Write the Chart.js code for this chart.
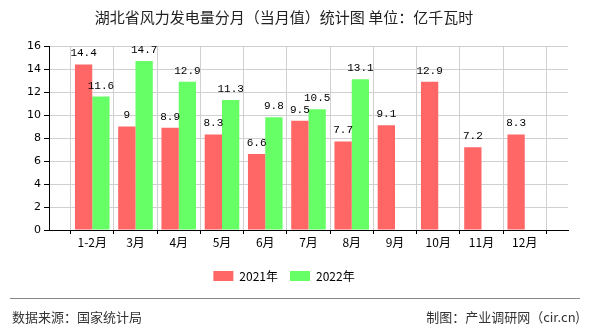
<!DOCTYPE html>
<html>
<head>
<meta charset="utf-8">
<script src="https://cdn.jsdelivr.net/npm/chart.js@4/dist/chart.umd.min.js"></script>
<style>
  html, body { margin: 0; padding: 0; background: #fff; }
  #wrap { position: relative; width: 590px; height: 330px; }
  #footer-line { position: absolute; left: 10px; right: 10px; top: 298px; border-top: 1px solid #888; }
  .foot { position: absolute; top: 307px; font: 13px "Noto Sans CJK SC", sans-serif; color: #333; }
</style>
</head>
<body>
<div id="wrap">
  <canvas id="chart" width="590" height="330"></canvas>
  <div id="footer-line"></div>
  <div class="foot" style="left:12px">数据来源：国家统计局</div>
  <div class="foot" style="right:10px">制图：产业调研网（cir.cn)</div>
</div>
<script>
// categorias e valores (亿千瓦时)
const categories = ['1-2月', '3月', '4月', '5月', '6月', '7月', '8月', '9月', '10月', '11月', '12月'];
const values2021 = [14.4, 9, 8.9, 8.3, 6.6, 9.5, 7.7, 9.1, 12.9, 7.2, 8.3];
const values2022 = [11.6, 14.7, 12.9, 11.3, 9.8, 10.5, 13.1];
const yTicks = [0, 2, 4, 6, 8, 10, 12, 14, 16];

const toPoints = arr => arr.map((v, i) => ({ x: i + 1, y: v }));

// Rótulos acima das barras
const barLabels = {
  id: 'barLabels',
  afterDatasetsDraw(chart) {
    const ctx = chart.ctx;
    ctx.save();
    ctx.font = '11px "Liberation Mono", monospace';
    ctx.fillStyle = '#000';
    ctx.textAlign = 'center';
    ctx.textBaseline = 'middle';
    chart.data.datasets.forEach((ds, di) => {
      chart.getDatasetMeta(di).data.forEach((el, i) => {
        ctx.fillText(String(ds.data[i].y), el.x, el.y - 11);
      });
    });
    ctx.restore();
  }
};

new Chart(document.getElementById('chart'), {
  type: 'bar',
  data: {
    datasets: [
      {
        label: '2021年',
        data: toPoints(values2021),
        backgroundColor: '#FF6666',
        barPercentage: 1,
        categoryPercentage: 0.8
      },
      {
        label: '2022年',
        data: toPoints(values2022),
        backgroundColor: '#66FF66',
        barPercentage: 1,
        categoryPercentage: 0.8
      }
    ]
  },
  options: {
    responsive: false,
    animation: false,
    layout: { padding: { left: 0, right: 22, top: 0, bottom: 38 } },
    plugins: {
      title: {
        display: true,
        text: '湖北省风力发电量分月（当月值）统计图 单位：亿千瓦时',
        color: '#222',
        font: { family: '"Noto Sans CJK SC", sans-serif', size: 15, weight: 'normal' },
        padding: { top: 8, bottom: 20 }
      },
      legend: {
        position: 'bottom',
        labels: {
          boxWidth: 20,
          boxHeight: 10,
          color: '#000',
          padding: 12,
          font: { family: '"Noto Sans CJK SC", sans-serif', size: 12 }
        }
      },
      tooltip: { enabled: false }
    },
    scales: {
      x: {
        type: 'linear',
        min: 0,
        max: 12,
        offset: false,
        afterFit(scale) { scale.height = 28; },
        afterBuildTicks(scale) {
          scale.ticks = categories.map((c, i) => ({ value: i + 1 }));
          scale.ticks.unshift({ value: 0 });
          scale.ticks.push({ value: 12 });
        },
        ticks: {
          autoSkip: false,
          maxRotation: 0,
          color: '#000',
          padding: 1,
          font: { family: '"Noto Sans CJK SC", sans-serif', size: 12 },
          callback: v => categories[v - 1] || ''
        },
        grid: { color: '#d0d0d0', tickColor: '#000', tickLength: 4 },
        border: { color: '#000' }
      },
      y: {
        min: 0,
        max: 16,
        afterFit(scale) { scale.width = 49; },
        afterBuildTicks(scale) {
          scale.ticks = yTicks.map(v => ({ value: v }));
        },
        ticks: {
          color: '#000',
          padding: 3,
          font: { family: '"DejaVu Sans", sans-serif', size: 11 }
        },
        grid: { color: '#d0d0d0', tickColor: '#000', tickLength: 5 },
        border: { color: '#000' }
      }
    }
  },
  plugins: [barLabels]
});
</script>
</body>
</html>
